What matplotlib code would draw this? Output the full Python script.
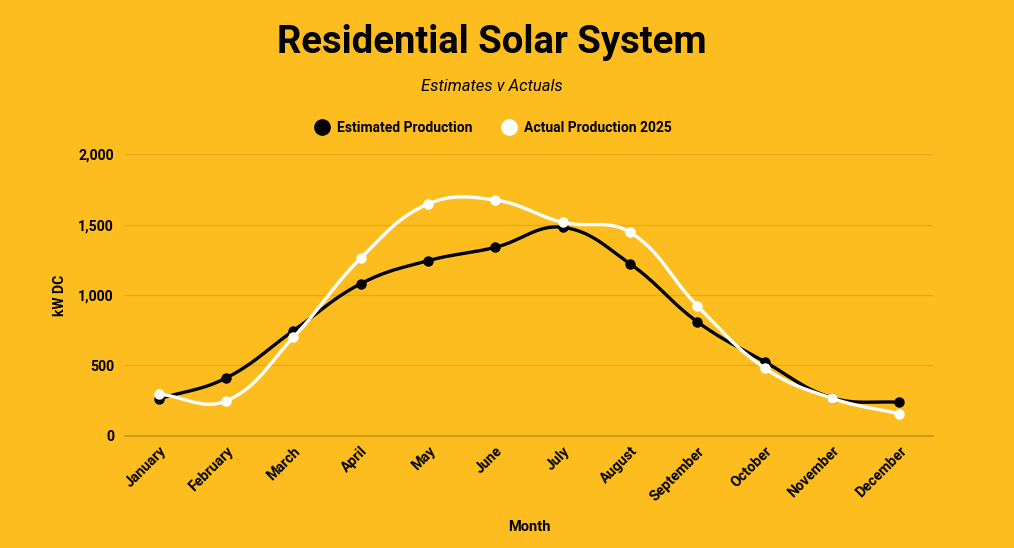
import numpy as np
import matplotlib
matplotlib.use('Agg')
import matplotlib.pyplot as plt
from matplotlib.lines import Line2D

## Dati
months = ['January', 'February', 'March', 'April', 'May', 'June', 'July',
          'August', 'September', 'October', 'November', 'December']
estimated = [261, 410, 746, 1080, 1244, 1339, 1481, 1222, 810, 526, 270, 237]
actual = [296, 247, 699, 1261, 1647, 1675, 1517, 1446, 924, 481, 266, 156]

bg = '#FDBD1E'
plt.rcParams['font.family'] = ['Roboto', 'DejaVu Sans']

fig = plt.figure(figsize=(10.14, 5.48), dpi=100, facecolor=bg)
ax = fig.add_axes([0.1233, 0.2049, 0.7968, 0.5135])
ax.set_facecolor(bg)

# scala in pixel, per la curva morbida
sx, sy = 67.3, 0.1407


def smooth(xs, ys, t=0.4, n=30):
    # spline bezier con tensione
    px = np.asarray(xs, float) * sx
    py = np.asarray(ys, float) * sy
    k = len(px)
    cp_prev, cp_next = [], []
    for i in range(k):
        a = max(i - 1, 0)
        b = min(i + 1, k - 1)
        d01 = np.hypot(px[i] - px[a], py[i] - py[a])
        d12 = np.hypot(px[b] - px[i], py[b] - py[i])
        s01 = d01 / (d01 + d12)
        s12 = d12 / (d01 + d12)
        dx, dy = px[b] - px[a], py[b] - py[a]
        cp_prev.append((px[i] - t * s01 * dx, py[i] - t * s01 * dy))
        cp_next.append((px[i] + t * s12 * dx, py[i] + t * s12 * dy))
    u = np.linspace(0, 1, n)[:, None]
    out = []
    for i in range(k - 1):
        p0 = np.array([px[i], py[i]])
        p1 = np.array(cp_next[i])
        p2 = np.array(cp_prev[i + 1])
        p3 = np.array([px[i + 1], py[i + 1]])
        seg = ((1 - u) ** 3) * p0 + 3 * ((1 - u) ** 2) * u * p1 \
            + 3 * (1 - u) * u ** 2 * p2 + u ** 3 * p3
        out.append(seg)
    out = np.vstack(out)
    return out[:, 0] / sx, out[:, 1] / sy


x = np.arange(len(months))
for vals, col, z in [(estimated, 'black', 3), (actual, 'white', 4)]:
    cx, cy = smooth(x, vals)
    ax.plot(cx, cy, color=col, lw=2.4, zorder=z, solid_capstyle='round')
    ax.plot(x, vals, 'o', color=col, markersize=6.5, zorder=z)

ax.set_xlim(-0.5, 11.5)
ax.set_ylim(0, 2000)
ax.set_yticks([0, 500, 1000, 1500, 2000])
ax.set_yticklabels(['0', '500', '1,000', '1,500', '2,000'])
ax.set_xticks(x)
ax.set_xticklabels(months, rotation=45, ha='right', rotation_mode='anchor')
for lab in ax.get_xticklabels() + ax.get_yticklabels():
    lab.set_fontweight('bold')
    lab.set_fontsize(10.2)
ax.tick_params(length=0, pad=8)
ax.tick_params(axis='x', pad=6)

ax.grid(axis='y', color='#E6A91A', lw=1)
ax.set_axisbelow(True)
for s in ['top', 'right', 'left']:
    ax.spines[s].set_visible(False)
ax.spines['bottom'].set_color('#C9961C')
ax.spines['bottom'].set_linewidth(1.2)

ax.set_ylabel('kW DC', fontweight='bold', fontsize=10, labelpad=8)
ax.set_xlabel('Month', fontweight='bold', fontsize=10.5, labelpad=12)

fig.text(0.485, 0.923, 'Residential Solar System', ha='center', va='center',
         fontsize=27.5, fontweight='bold')
fig.text(0.485, 0.843, 'Estimates v Actuals', ha='center', va='center',
         fontsize=12, style='italic')

handles = [Line2D([], [], marker='o', ls='none', color='black', markersize=11),
           Line2D([], [], marker='o', ls='none', color='white', markersize=11)]
fig.legend(handles, ['Estimated Production', 'Actual Production 2025'],
           loc='center', bbox_to_anchor=(0.483, 0.766), ncol=2, frameon=False,
           prop={'weight': 'bold', 'size': 10}, handletextpad=0.1,
           columnspacing=1.6)

plt.savefig('out.png', dpi=100, facecolor=bg)
